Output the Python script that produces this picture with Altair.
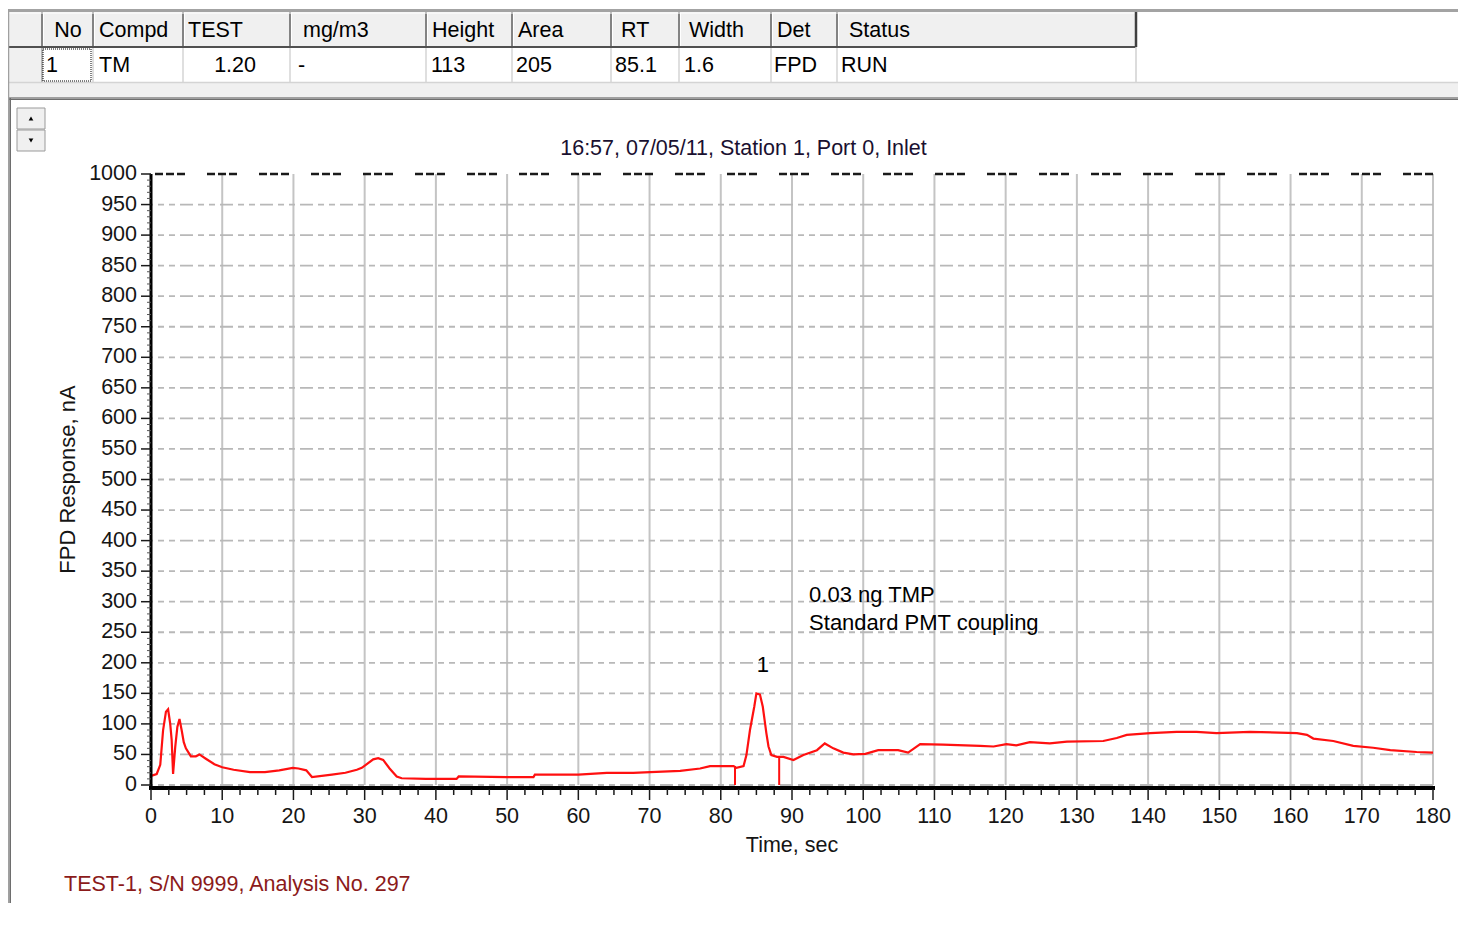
import altair as alt
import pandas as pd

# ---------------- data ----------------
time_s = [0, 0.8, 1.3, 1.7, 2.1, 2.4, 2.7, 2.9, 3.1, 3.4, 3.7, 4.0, 4.3, 4.6, 4.9, 5.6, 6.3, 6.8,
          7.7, 8.9, 10.0, 11.6, 13.9, 16.0, 18.0, 19.9, 20.7, 21.8, 22.6, 25.4, 27.3, 28.9, 29.6,
          30.3, 31.2, 31.9, 32.6, 33.5, 34.5, 35.2, 38.6, 42.9, 43.2, 50.0, 53.7, 53.9, 60.0, 64.0,
          66.5, 67.7, 70.1, 74.3, 77.1, 78.5, 81.8, 82.2, 83.2, 83.6, 84.1, 84.7, 85.0, 85.5, 85.9,
          86.4, 86.7, 87.1, 87.9, 88.8, 90.2, 91.6, 93.5, 94.6, 95.8, 97.2, 98.6, 100.3, 102.1,
          104.9, 106.3, 108.0, 111.2, 116.4, 118.3, 120.1, 121.5, 123.4, 126.2, 128.6, 133.7,
          135.6, 137.0, 140.3, 144.0, 146.8, 149.6, 154.3, 160.9, 162.3, 163.2, 166.0, 168.8,
          171.6, 174.0, 177.7, 180.0]
response_na = [15, 18, 33, 90, 120, 124, 100, 74, 18, 62, 95, 108, 90, 70, 60, 47, 47, 50,
               43, 34, 29, 25, 21, 21, 24, 28, 27, 24, 13, 17, 20, 25, 28,
               34, 42, 44, 41, 27, 14, 11, 10, 10, 14, 13, 13, 17, 17, 20,
               20, 20, 21, 23, 27, 31, 31, 28, 31, 49, 90, 128, 150, 148, 128,
               85, 63, 49, 46, 46, 41, 49, 57, 68, 60, 53, 50, 51, 57,
               57, 53, 67, 66, 64, 63, 67, 65, 70, 68, 71, 72,
               77, 82, 85, 87, 87, 85, 87, 85, 82, 76, 72, 64,
               61, 57, 54, 53]
marker_time = [82.0, 88.2]
marker_top = [31, 46]
peak_no = ["1"]
peak_time = [85.9]
peak_level = [196]
note_text = ["0.03 ng TMP", "Standard PMT coupling"]
note_time = [92.4, 92.4]
note_level = [300, 254]
x_tick_values = list(range(0, 181, 10))
y_tick_values = list(range(0, 1001, 50))
x_minor_values = [k * 2.5 for k in range(0, 73) if k % 4]
y_minor_values = [v for v in range(0, 1001, 10) if v % 50]
top_line_value = [1000]
title_text = "16:57, 07/05/11, Station 1, Port 0, Inlet"
x_title = "Time, sec"
y_title = "FPD Response, nA"
footer_text = "TEST-1, S/N 9999, Analysis No. 297"
table_header = ["No", "Compd", "TEST", "mg/m3", "Height", "Area", "RT", "Width", "Det", "Status"]
table_values = ["1", "TM", "1.20", "-", "113", "205", "85.1", "1.6", "FPD", "RUN"]

# ---------------- layout (page pixels) ----------------
FONT = "Liberation Sans"
TXT = "#151515"
W, H = 1282, 611
OX, OY = 151, 174          # page position of the plot's top-left corner
X_MAX, Y_MAX = 180, 1000
col_edges = [8, 42, 93, 183, 290, 426, 512, 611, 679, 771, 837, 1136]
header_x = [68, 99, 188, 303, 432, 518, 621, 689, 777, 849]
header_align = ["center"] + ["left"] * 9
value_x = [46, 99, 256, 298, 431, 516, 615, 684, 774, 841]
value_align = ["left", "left", "right"] + ["left"] * 7
HEAD_Y, ROW_Y = 31, 66


def px(p):
    """page x pixel -> plot x units (the chrome around the plot uses the same scale)"""
    return (p - OX) * X_MAX / W


def py(p):
    """page y pixel -> plot y units"""
    return (OY + H - p) * Y_MAX / H


xs = alt.Scale(domain=[0, X_MAX], nice=False, zero=False)
ys = alt.Scale(domain=[0, Y_MAX], nice=False, zero=False)


def X(field):
    return alt.X(field, scale=xs, axis=None)


def Y(field):
    return alt.Y(field, scale=ys, axis=None)


# ---------------- axes, grid and ticks (drawn through the x / y scales) ----------------
x_grid = alt.Chart(pd.DataFrame({"t": x_tick_values})).mark_rule(
    color="#c4c4c4", strokeWidth=2).encode(x=X("t:Q"))

y_grid = alt.Chart(pd.DataFrame({"v": y_tick_values[:-1]})).mark_rule(
    color="#b8b8b8", strokeWidth=1.8, strokeDash=[13, 5, 6, 5, 6, 5]).encode(y=Y("v:Q"))

top_line = alt.Chart(pd.DataFrame({"v": top_line_value})).mark_rule(
    color="#1a1a1a", strokeWidth=2.5, strokeDash=[8, 3, 8, 3, 8, 22]).encode(y=Y("v:Q"))

y_domain = alt.Chart(pd.DataFrame({"v": [0]})).mark_rule(
    color="#000", strokeWidth=3).encode(
    x=alt.value(0), y=alt.value(0), y2=alt.value(H + 4))

y_major = alt.Chart(pd.DataFrame({"v": y_tick_values})).mark_rule(
    color="#1a1a1a", strokeWidth=1.5).encode(
    y=Y("v:Q"), x=alt.value(-10), x2=alt.value(0))

y_minor = alt.Chart(pd.DataFrame({"v": y_minor_values})).mark_rule(
    color="#555555", strokeWidth=1).encode(
    y=Y("v:Q"), x=alt.value(-4), x2=alt.value(0))

# bottom axis bar and its ticks, positioned through the scales (page rows 786-799)
x_domain = alt.Chart(pd.DataFrame({"a": [px(149)], "b": [px(1435)],
                                   "y0": [py(786)], "y1": [py(790)]})).mark_rect(color="#000").encode(
    x=X("a:Q"), x2="b:Q", y=Y("y0:Q"), y2="y1:Q")

x_major = alt.Chart(pd.DataFrame({"t": x_tick_values})).mark_rule(
    color="#1a1a1a", strokeWidth=1.5).encode(
    x=X("t:Q"), y=alt.datum(py(789)), y2=alt.datum(py(800)))

x_minor = alt.Chart(pd.DataFrame({"t": x_minor_values})).mark_rule(
    color="#1a1a1a", strokeWidth=1.5).encode(
    x=X("t:Q"), y=alt.datum(py(789)), y2=alt.datum(py(795)))

x_labels = alt.Chart(pd.DataFrame({"t": x_tick_values, "s": [str(v) for v in x_tick_values]})).mark_text(
    align="center", baseline="middle", font=FONT, fontSize=21.5, color=TXT).encode(
    x=X("t:Q"), y=alt.value(H + 32), text="s:N")

y_labels = alt.Chart(pd.DataFrame({"v": y_tick_values, "s": [str(v) for v in y_tick_values]})).mark_text(
    align="right", baseline="middle", font=FONT, fontSize=21.5, color=TXT).encode(
    y=Y("v:Q"), x=alt.value(-14), text="s:N")

x_title_mark = alt.Chart(pd.DataFrame({"s": [x_title]})).mark_text(
    align="center", baseline="middle", font=FONT, fontSize=21.5, color=TXT).encode(
    x=alt.value(W / 2), y=alt.value(846 - OY), text="s:N")

y_title_mark = alt.Chart(pd.DataFrame({"s": [y_title]})).mark_text(
    align="center", baseline="middle", angle=270, font=FONT, fontSize=22, color=TXT).encode(
    x=alt.value(68 - OX), y=alt.value(H / 2), text="s:N")

# ---------------- data marks ----------------
trace = alt.Chart(pd.DataFrame({"t": time_s, "v": response_na})).mark_line(
    color="#ff1010", strokeWidth=2.2).encode(x=X("t:Q"), y=Y("v:Q"))

markers = alt.Chart(pd.DataFrame({"t": marker_time, "v": marker_top})).mark_rule(
    color="#ff1010", strokeWidth=2).encode(
    x=X("t:Q"), y=Y("v:Q"), y2=alt.datum(0))

notes = alt.Chart(pd.DataFrame({"t": note_time, "v": note_level, "s": note_text})).mark_text(
    align="left", baseline="alphabetic", font=FONT, fontSize=22, color="#000").encode(
    x=X("t:Q"), y=Y("v:Q"), text="s:N")

peak = alt.Chart(pd.DataFrame({"t": peak_time, "v": peak_level, "s": peak_no})).mark_text(
    align="center", baseline="middle", font=FONT, fontSize=22, color="#000").encode(
    x=X("t:Q"), y=Y("v:Q"), text="s:N")

title = alt.Chart(pd.DataFrame({"s": [title_text]})).mark_text(
    align="center", baseline="middle", font=FONT, fontSize=21.5, color="#1a1030").encode(
    x=alt.value(743.5 - OX), y=alt.value(149 - OY), text="s:N")

footer = alt.Chart(pd.DataFrame({"s": [footer_text]})).mark_text(
    align="left", baseline="middle", font=FONT, fontSize=21.5, color="#8b1a1a").encode(
    x=alt.value(64 - OX), y=alt.value(885 - OY), text="s:N")

# ---------------- window chrome / result table ----------------
rect_rows = [
    (8, 1466, 9, 12, "#a3a3a3"),
    (8, 1136, 12, 47, "#f0f0f0"),
    (8, 42, 47, 82, "#f0f0f0"),
    (8, 1466, 83, 97, "#f0f0f0"),
    (8, 1466, 97, 98.5, "#a0a0a0"),
    (8, 1466, 98.5, 100, "#6e6e6e"),
    (8, 9.5, 97, 931, "#a0a0a0"),
    (9.5, 11, 98, 931, "#6e6e6e"),
]
rect_df = pd.DataFrame(rect_rows, columns=["x0", "x1", "y0", "y1", "c"])
for c in ["x0", "x1"]:
    rect_df[c] = rect_df[c].map(px)
for c in ["y0", "y1"]:
    rect_df[c] = rect_df[c].map(py)
rects = alt.Chart(rect_df).mark_rect().encode(
    x=X("x0:Q"), x2="x1:Q", y=Y("y0:Q"), y2="y1:Q",
    color=alt.Color("c:N", scale=None))

line_rows = []
for e in col_edges[1:-1]:
    line_rows.append((e, e, 12, 47, "#5f5f5f", 1.5))
    line_rows.append((e + 1.5, e + 1.5, 13, 46, "#ffffff", 1))
    line_rows.append((e, e, 47, 82, "#a0a0a0" if e == col_edges[1] else "#d4d4d4", 1.5))
line_rows += [
    (8, 1136, 47, 47, "#505050", 2),
    (8, 1136, 13, 13, "#ffffff", 1),
    (1136, 1136, 12, 47, "#404040", 2.5),
    (1136, 1136, 47, 82, "#d0d0d0", 1.5),
    (8, 1466, 82.5, 82.5, "#d4d4d4", 1.5),
    (8.5, 8.5, 9, 97, "#a0a0a0", 1.5),
]
line_df = pd.DataFrame(line_rows, columns=["x0", "x1", "y0", "y1", "c", "w"])
for c in ["x0", "x1"]:
    line_df[c] = line_df[c].map(px)
for c in ["y0", "y1"]:
    line_df[c] = line_df[c].map(py)
lines = alt.Chart(line_df).mark_rule().encode(
    x=X("x0:Q"), x2="x1:Q", y=Y("y0:Q"), y2="y1:Q",
    color=alt.Color("c:N", scale=None), strokeWidth=alt.StrokeWidth("w:Q", scale=None))

focus = alt.Chart(pd.DataFrame({"x0": [px(43)], "x1": [px(91)], "y0": [py(49)], "y1": [py(81)]})).mark_rect(
    fillOpacity=0, stroke="#000", strokeWidth=1, strokeDash=[1, 1]).encode(
    x=X("x0:Q"), x2="x1:Q", y=Y("y0:Q"), y2="y1:Q")

buttons = alt.Chart(pd.DataFrame({"x0": [px(17)] * 2, "x1": [px(45)] * 2,
                                  "y0": [py(108), py(130)], "y1": [py(129), py(151)]})).mark_rect(
    fill="#f0f0f0", stroke="#9a9a9a", strokeWidth=1).encode(
    x=X("x0:Q"), x2="x1:Q", y=Y("y0:Q"), y2="y1:Q")

arrows = alt.Chart(pd.DataFrame({"x": [px(31)] * 2, "y": [py(118.5), py(140.5)],
                                 "shape": ["triangle-up", "triangle-down"]})).mark_point(
    filled=True, color="#000", size=22, opacity=1).encode(
    x=X("x:Q"), y=Y("y:Q"), shape=alt.Shape("shape:N", scale=None))

text_layers = []
for items, xs_list, aligns, yy in [(table_header, header_x, header_align, HEAD_Y),
                                   (table_values, value_x, value_align, ROW_Y)]:
    for al in ["left", "center", "right"]:
        sel = [(s, x) for s, x, a in zip(items, xs_list, aligns) if a == al]
        if not sel:
            continue
        df = pd.DataFrame({"s": [s for s, _ in sel], "x": [px(x) for _, x in sel],
                           "y": [py(yy)] * len(sel)})
        text_layers.append(alt.Chart(df).mark_text(
            align=al, baseline="middle", font=FONT, fontSize=21.5, color="#000").encode(
            x=X("x:Q"), y=Y("y:Q"), text="s:N"))

chart = alt.layer(
    x_grid, y_grid, top_line, trace, markers, y_domain, y_major, y_minor,
    x_labels, y_labels, x_title_mark, y_title_mark, notes, peak, title, footer,
    rects, lines, focus, buttons, arrows, *text_layers,
    x_domain, x_major, x_minor,
).properties(
    width=W, height=H,
    autosize=alt.AutoSizeParams(type="none"),
    padding={"left": OX - 8, "top": OY - 8, "right": 25, "bottom": 118},
).configure_view(stroke=None)

chart.save("out.html", embed_options={"renderer": "svg", "actions": False})
